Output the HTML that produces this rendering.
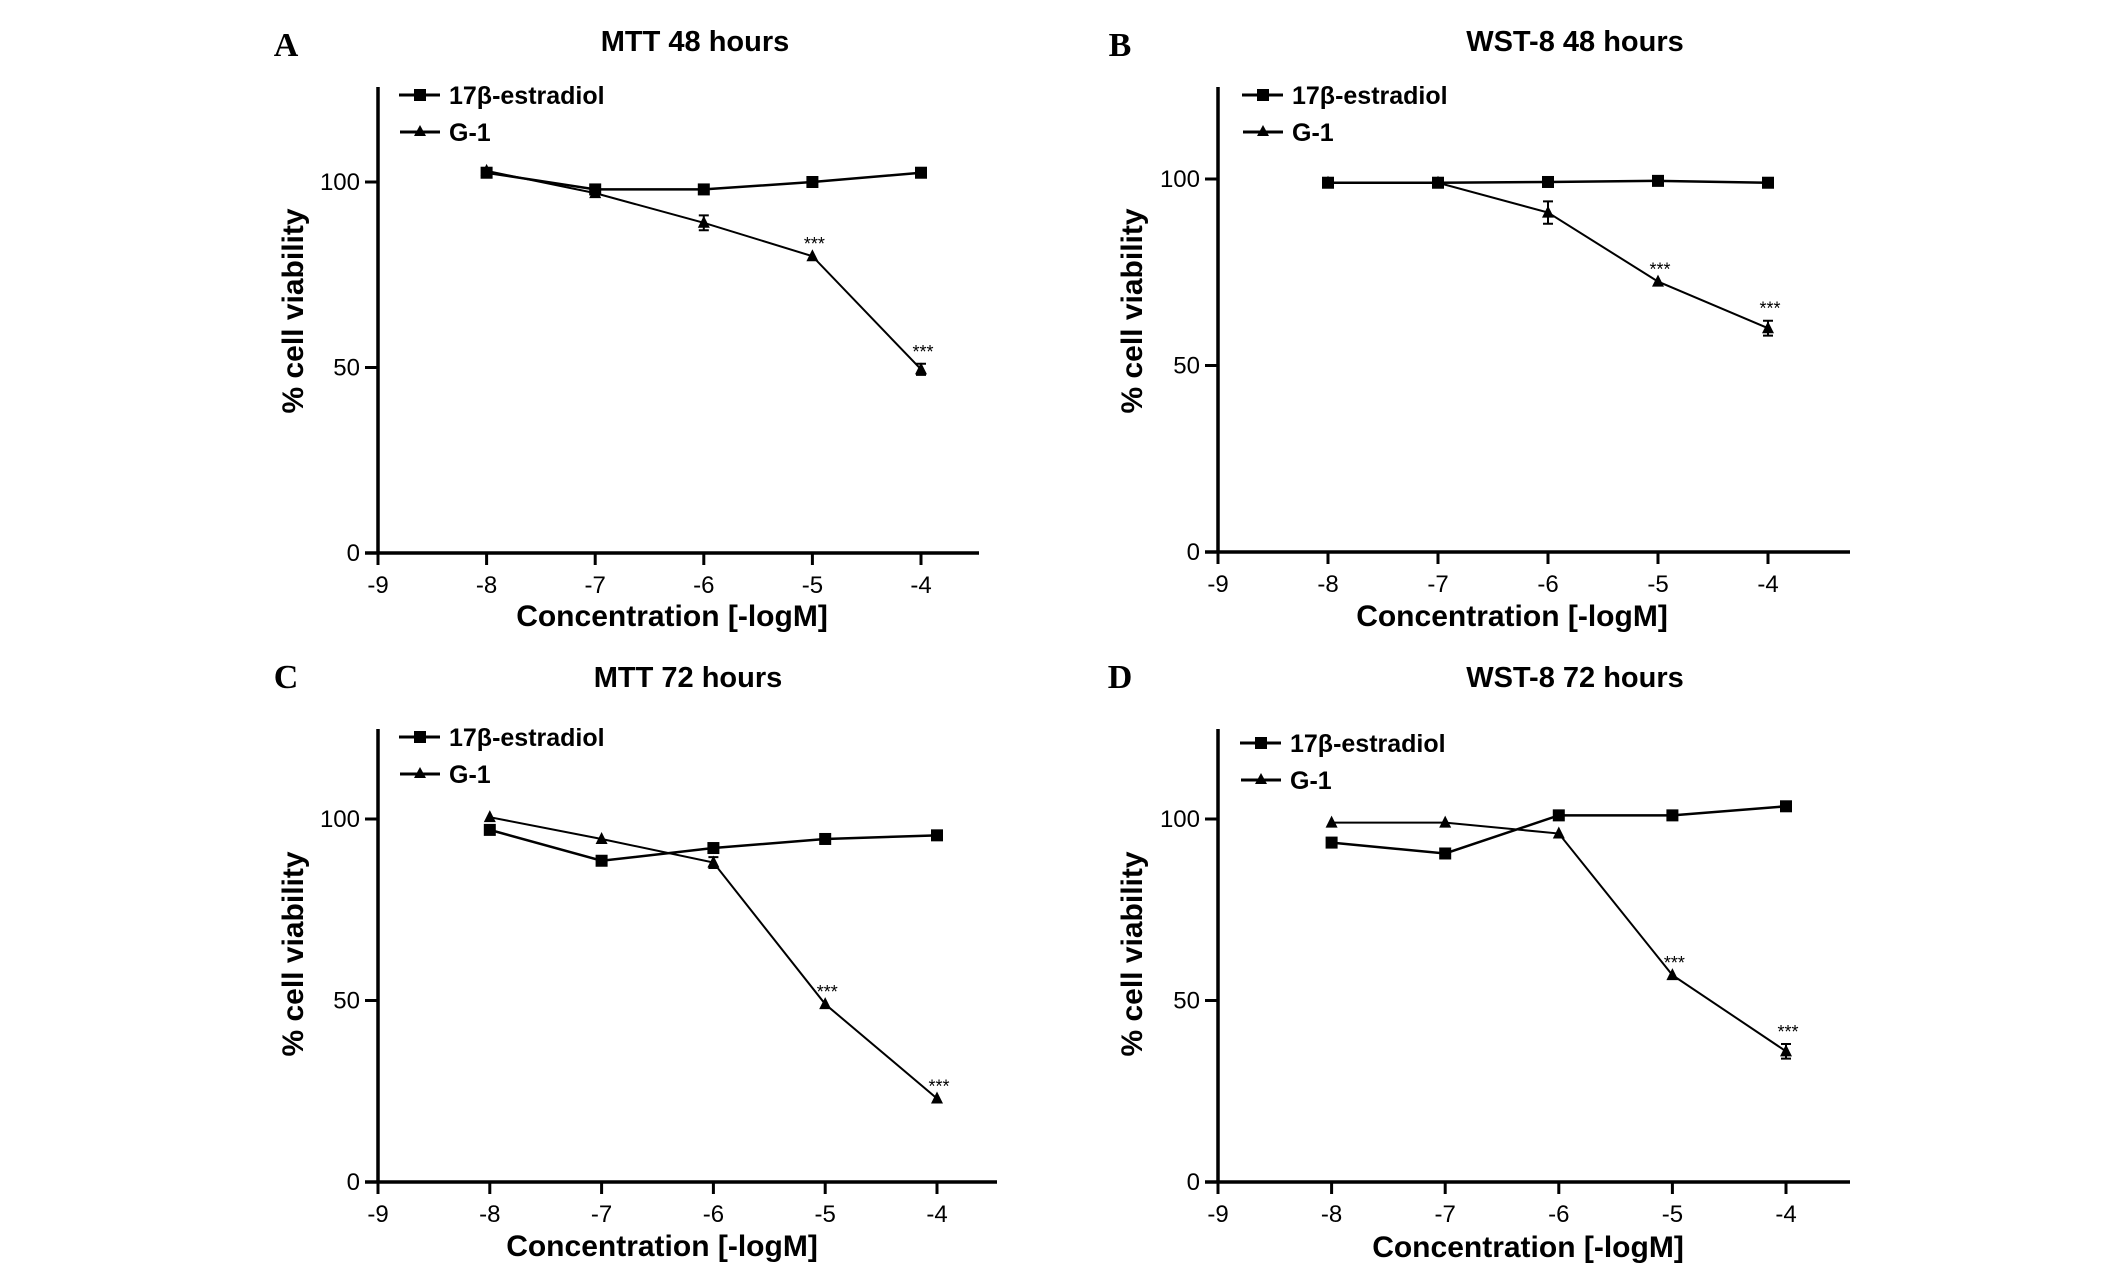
<!DOCTYPE html>
<html><head><meta charset="utf-8"><style>
html,body{margin:0;padding:0;background:#fff;}
svg{display:block;font-family:"Liberation Sans",Arial,sans-serif;}
</style></head><body>
<svg id="fig" width="2126" height="1263" viewBox="0 0 2126 1263" xmlns="http://www.w3.org/2000/svg"></svg>
<script>
const xTicks = [-9,-8,-7,-6,-5,-4];
const yTicks = [0,50,100];
const concentrations = [-8,-7,-6,-5,-4];
const titles = ["MTT 48 hours","WST-8 48 hours","MTT 72 hours","WST-8 72 hours"];
const letters = ["A","B","C","D"];
const e2A = [102.5,98,98,100,102.5];
const g1A = [103,97,89,80,49.5];
const g1AErr = [0.5,1,2,0.5,1.5];
const e2B = [99,99,99.2,99.5,99];
const g1B = [99,99,91,72.5,60];
const g1BErr = [0.5,0.5,3,0.5,2];
const e2C = [97,88.5,92,94.5,95.5];
const g1C = [100.5,94.5,88,49,23];
const g1CErr = [0.5,0.5,1.5,0.5,0.5];
const e2D = [93.5,90.5,101,101,103.5];
const g1D = [99,99,96,57,36];
const g1DErr = [0.5,0.5,0.5,0.5,2];
const starsA = [false,false,false,true,true];
const starsB = [false,false,false,true,true];
const starsC = [false,false,false,true,true];
const starsD = [false,false,false,true,true];

const NS="http://www.w3.org/2000/svg";
const svg=document.getElementById('fig');
function mk(tag,attrs,parent){const e=document.createElementNS(NS,tag);for(const k in attrs)e.setAttribute(k,attrs[k]);(parent||svg).appendChild(e);return e;}
function txt(s,attrs,parent){const e=mk('text',attrs,parent);e.textContent=s;return e;}

const layouts=[
 {x0:378,xEnd:979,xm4:921,y0:553,y100:182,top:87,title:[695,41],letter:[286,45],leg:[399,95],ytx:293,yty:311,xt:[672,626]},
 {x0:1218,xEnd:1850,xm4:1768,y0:552,y100:179,top:87,title:[1575,41],letter:[1120,45],leg:[1242,95],ytx:1132,yty:311,xt:[1512,626]},
 {x0:378,xEnd:997,xm4:937,y0:1182,y100:819,top:729,title:[688,677],letter:[286,677],leg:[399,737],ytx:293,yty:954,xt:[662,1256]},
 {x0:1218,xEnd:1850,xm4:1786,y0:1182,y100:819,top:729,title:[1575,677],letter:[1120,677],leg:[1240,743],ytx:1132,yty:954,xt:[1528,1257]}
];
const e2s=[e2A,e2B,e2C,e2D], g1s=[g1A,g1B,g1C,g1D], errs=[g1AErr,g1BErr,g1CErr,g1DErr], stars=[starsA,starsB,starsC,starsD];

layouts.forEach((L,i)=>{
 const g=mk('g',{});
 
 
 const xs=v=>L.x0+(v+9)/5*(L.xm4-L.x0);
 const ys=v=>L.y0-v/100*(L.y0-L.y100);
 const lt=txt(letters[i],{x:L.letter[0],y:L.letter[1]+11,'font-family':'Liberation Serif, serif','font-weight':'bold','font-size':34,'text-anchor':'middle'},g);
 
 
 const t=txt(titles[i],{x:L.title[0],y:L.title[1]+10,'font-weight':'bold','font-size':29,'text-anchor':'middle'},g);
 
 
 const ya=mk('line',{x1:L.x0,y1:L.top,x2:L.x0,y2:L.y0+1.5,stroke:'#000','stroke-width':3.5},g);
 
 
 const xa=mk('line',{x1:L.x0-13,y1:L.y0,x2:L.xEnd,y2:L.y0,stroke:'#000','stroke-width':3.5},g);
 
 
 xTicks.forEach(v=>{
  mk('line',{x1:xs(v),y1:L.y0,x2:xs(v),y2:L.y0+12,stroke:'#000','stroke-width':3},g);
  const tl=txt(String(v),{x:xs(v),y:L.y0+40,'font-size':24,'text-anchor':'middle'},g);
  
  
 });
 yTicks.forEach(v=>{
  mk('line',{x1:L.x0-13,y1:ys(v),x2:L.x0,y2:ys(v),stroke:'#000','stroke-width':3},g);
  const tl=txt(String(v),{x:L.x0-18,y:ys(v)+8,'font-size':24,'text-anchor':'end'},g);
  
  
 });
 const yt=txt('% cell viability',{x:0,y:0,'font-weight':'bold','font-size':30,'text-anchor':'middle',transform:`translate(${L.ytx+10},${L.yty}) rotate(-90)`},g);
 
 
 const xt=txt('Concentration [-logM]',{x:L.xt[0],y:L.xt[1],'font-weight':'bold','font-size':30,'text-anchor':'middle'},g);
 
 
 const e2=e2s[i], g1=g1s[i], er=errs[i];
 const p1=mk('polyline',{points:concentrations.map((c,k)=>xs(c)+','+ys(e2[k])).join(' '),fill:'none',stroke:'#000','stroke-width':2.5},g);
 
 
 const p2=mk('polyline',{points:concentrations.map((c,k)=>xs(c)+','+ys(g1[k])).join(' '),fill:'none',stroke:'#000','stroke-width':2},g);
 
 
 concentrations.forEach((c,k)=>{
  const cx=xs(c), cy=ys(g1[k]);
  if(er[k]>1){
   const e=er[k]*(L.y0-L.y100)/100;
   mk('path',{d:`M${cx},${cy-e}V${cy+e}M${cx-5},${cy-e}H${cx+5}M${cx-5},${cy+e}H${cx+5}`,stroke:'#000','stroke-width':2,fill:'none'},g);
  }
  const tri=mk('polygon',{points:`${cx},${cy-7} ${cx-6},${cy+5} ${cx+6},${cy+5}`,fill:'#000'},g);
  
  
  const sq=mk('rect',{x:cx-6,y:ys(e2[k])-6,width:12,height:12,fill:'#000'},g);
  
  
  if(stars[i][k]){
   const s=txt('***',{x:cx+2,y:cy-(er[k]>1?er[k]*(L.y0-L.y100)/100:0)-6,'font-size':18,'text-anchor':'middle'},g);
   
   
  }
 });
 const lg=mk('g',{},g);
 
 
 const lx=L.leg[0], ly=L.leg[1];
 mk('line',{x1:lx,y1:ly,x2:lx+41,y2:ly,stroke:'#000','stroke-width':3},lg);
 mk('rect',{x:lx+15,y:ly-6,width:12,height:12,fill:'#000'},lg);
 const l1=txt('17β-estradiol',{x:lx+50,y:ly+9,'font-weight':'bold','font-size':25},lg);
 
 
 mk('line',{x1:lx+1,y1:ly+37,x2:lx+41,y2:ly+37,stroke:'#000','stroke-width':3},lg);
 mk('polygon',{points:`${lx+21},${ly+30} ${lx+15},${ly+41} ${lx+27},${ly+41}`,fill:'#000'},lg);
 const l2=txt('G-1',{x:lx+50,y:ly+46,'font-weight':'bold','font-size':25},lg);
 
 
});
</script>
</body></html>
